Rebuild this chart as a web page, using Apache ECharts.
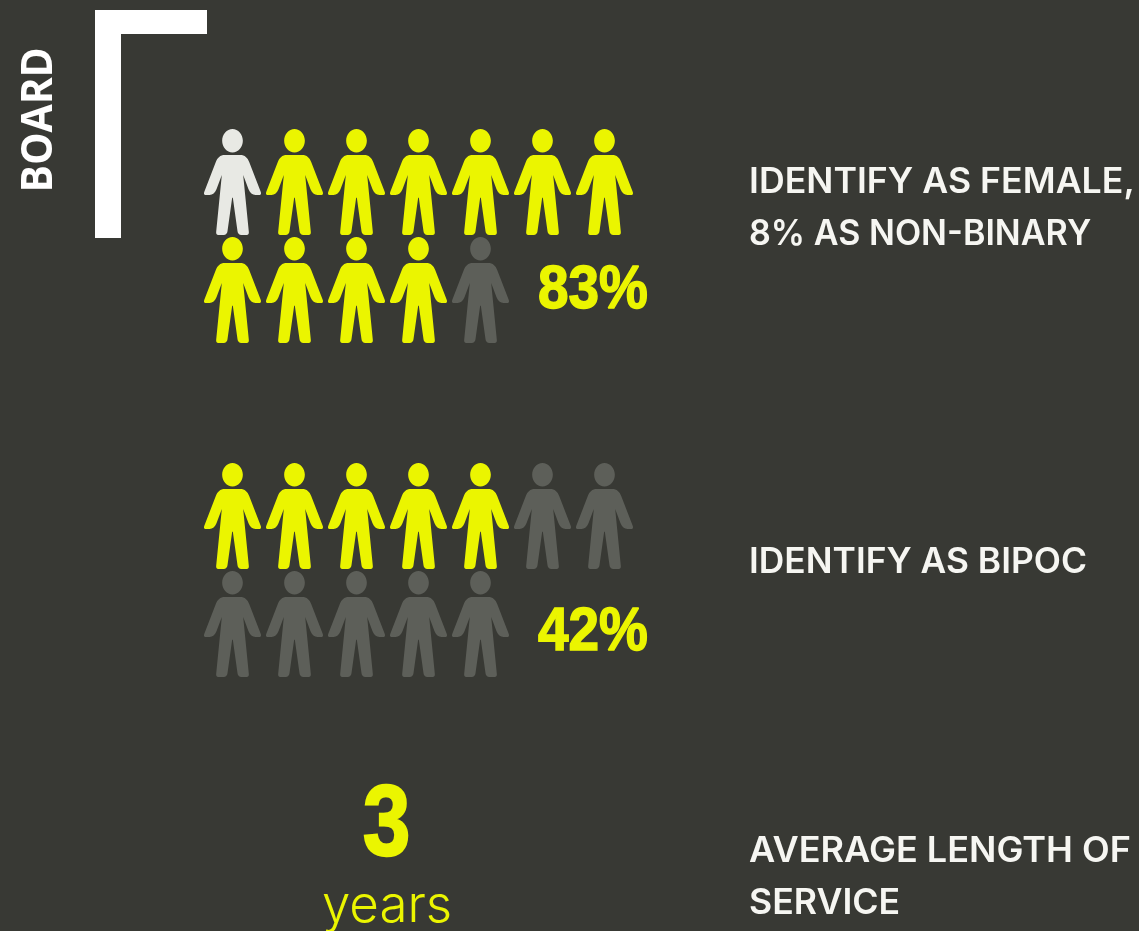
<!DOCTYPE html>
<html>
<head>
<meta charset="utf-8">
<style>html,body{margin:0;padding:0;background:#383934}#chart{width:1139px;height:931px}</style>
<script src="https://cdn.jsdelivr.net/npm/echarts@6/dist/echarts.min.js"></script>
</head>
<body>
<div id="chart"></div>
<script>
// Board composition, one pictogram figure per board seat.
const columns = [1, 2, 3, 4, 5, 6, 7];
const rows = ['upper', 'lower'];
const femaleSeats = [
  ['nonBinary', 'female', 'female', 'female', 'female', 'female', 'female'],
  ['female', 'female', 'female', 'female', 'other']
];
const bipocSeats = [
  ['bipoc', 'bipoc', 'bipoc', 'bipoc', 'bipoc', 'other', 'other'],
  ['other', 'other', 'other', 'other', 'other']
];
const percentLabels = ['83%', '42%'];
const tenure = '3';
const tenureUnit = 'years';
const sectionTitle = 'BOARD';
const femaleCaption = ['IDENTIFY AS FEMALE,', '8% AS NON-BINARY'];
const bipocCaption = ['IDENTIFY AS BIPOC'];
const tenureCaption = ['AVERAGE LENGTH OF', 'SERVICE'];

const BG = '#383934', YELLOW = '#ebf500', PALE = '#e8e9e4', GREY = '#5d5f59';
const seatColor = { female: YELLOW, bipoc: YELLOW, nonBinary: PALE, other: GREY };

const person = 'path://M113 28C130 28 144 44 144 63C144 82 130 98 113 98C96 98 82 82 82 63C82 44 96 28 113 28Z' +
  'M90 105L136 105C150 105 158 113 163 126L198 216C199 221 198 224 194 224L182 224C172 224 166 218 161 207L145 165' +
  'L162 335C162 340 160 343 156 343L140 343C132 343 129 338 128 332L114 232L112 232L98 332C97 338 94 343 86 343' +
  'L70 343C66 343 64 340 64 335L81 165L65 207C60 218 54 224 44 224L32 224C28 224 27 221 28 216L63 126C68 113 76 105 90 105Z';

function seatPoints(seats) {
  const pts = [];
  seats.forEach((row, r) => row.forEach((kind, c) => {
    pts.push({ value: [c, r], itemStyle: { color: seatColor[kind], opacity: 1 } });
  }));
  return pts;
}

const blockTops = [128, 462];
const blocks = [femaleSeats, bipocSeats];

// Text anchored by the vertical middle of its line box.
const textEl = (x, y, text, font, fill, extra, styleExtra) => Object.assign({
  type: 'text', x, y,
  style: Object.assign({ text, font, fill, align: 'left', verticalAlign: 'middle' }, styleExtra || {})
}, extra || {});

const heavy = { stroke: YELLOW, lineWidth: 1.5 };
const captionFont = '600 35px Inter, sans-serif';
// Each caption line carries its own horizontal stretch to fill its measure.
const captionLines = (lines, mid, stretch) => lines.map((t, i) =>
  textEl(749, mid + i * 52, t, captionFont, '#f6f6f2', { scaleX: stretch[i] }));

const option = {
  backgroundColor: BG,
  animation: false,
  grid: blockTops.map(top => ({ left: 201.5, top, width: 434, height: 216 })),
  xAxis: blocks.map((_, i) => ({ type: 'category', gridIndex: i, data: columns, show: false })),
  yAxis: blocks.map((_, i) => ({ type: 'category', gridIndex: i, data: rows, inverse: true, show: false })),
  series: blocks.map((seats, i) => ({
    type: 'scatter', xAxisIndex: i, yAxisIndex: i,
    symbol: person, symbolSize: [57, 106], symbolKeepAspect: false,
    data: seatPoints(seats)
  })),
  graphic: [
    { type: 'rect', shape: { x: 95, y: 10, width: 26, height: 228 }, style: { fill: '#fff' } },
    { type: 'rect', shape: { x: 95, y: 10, width: 112, height: 24 }, style: { fill: '#fff' } },
    textEl(40, 192.5, sectionTitle, '700 43px "Open Sans", sans-serif', '#fff', { rotation: Math.PI / 2, scaleX: 0.95 }),
    textEl(538, 291, percentLabels[0], '700 61px "Liberation Sans", sans-serif', YELLOW, { scaleX: 0.9 }, heavy),
    textEl(538, 633, percentLabels[1], '700 61px "Liberation Sans", sans-serif', YELLOW, { scaleX: 0.9 }, heavy),
    textEl(363, 827, tenure, '700 100px "Liberation Sans", sans-serif', YELLOW, { scaleX: 0.85 }, { stroke: YELLOW, lineWidth: 2.5 }),
    textEl(322, 907, tenureUnit, '300 51px Inter, sans-serif', YELLOW),
    ...captionLines(femaleCaption, 182, [1.02, 0.975]),
    ...captionLines(bipocCaption, 562, [1.01]),
    ...captionLines(tenureCaption, 851, [1.03, 1.02])
  ]
};

echarts.init(document.getElementById('chart'), null, { renderer: 'canvas' }).setOption(option);
</script>
</body>
</html>
